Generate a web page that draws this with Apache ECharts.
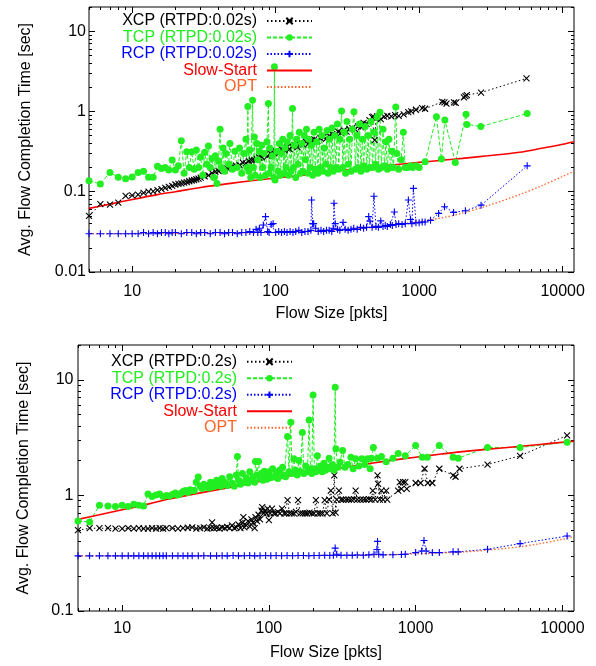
<!DOCTYPE html>
<html><head><meta charset="utf-8">
<script src="https://cdn.jsdelivr.net/npm/echarts@6/dist/echarts.min.js"></script>
<style>html,body{margin:0;padding:0;background:#fff}#c{width:596px;height:666px}</style>
</head><body><div id="c"></div>
<script>
// ---------- tick values ----------
const xMajorTicks = [10, 100, 1000, 10000];
const xMinorTicks = [5,6,7,8,9,20,30,40,50,60,70,80,90,200,300,400,500,600,700,800,900,2000,3000,4000,5000,6000,7000,8000,9000];
const yTopMajor = [0.01, 0.1, 1, 10];
const yTopMinor = [0.02,0.03,0.04,0.05,0.06,0.07,0.08,0.09,0.2,0.3,0.4,0.5,0.6,0.7,0.8,0.9,2,3,4,5,6,7,8,9,20];
const yBotMajor = [0.1, 1, 10];
const yBotMinor = [0.2,0.3,0.4,0.5,0.6,0.7,0.8,0.9,2,3,4,5,6,7,8,9,20];

// ---------- series names ----------
const namesTop = ['XCP (RTPD:0.02s)', 'TCP (RTPD:0.02s)', 'RCP (RTPD:0.02s)', 'Slow-Start', 'OPT'];
const namesBot = ['XCP (RTPD:0.2s)', 'TCP (RTPD:0.2s)', 'RCP (RTPD:0.2s)', 'Slow-Start', 'OPT'];

// ---------- top panel data (flow size, avg completion time) ----------
const xcpTop = [[5,0.050],[6,0.070],[7,0.069],[8,0.073],[9,0.089],[10,0.090],[11,0.092],[12,0.097],[13,0.100],[14,0.101],[15,0.105],[16,0.108],[17,0.112],[18,0.115],[19,0.118],[20,0.123],[21,0.125],[22,0.127],[23,0.130],[24,0.132],[25,0.135],[26,0.138],[27,0.140],[28,0.143],[29,0.146],[30,0.150],[32,0.155],[34,0.160],[36,0.170],[38,0.178],[40,0.180],[42,0.190],[44,0.185],[46,0.195],[48,0.200],[50,0.205],[53,0.210],[56,0.215],[59,0.230],[62,0.225],[65,0.240],[68,0.245],[71,0.250],[74,0.255],[77,0.265],[80,0.270],[84,0.290],[88,0.280],[92,0.300],[96,0.310],[100,0.320],[105,0.300],[110,0.340],[115,0.330],[120,0.360],[125,0.340],[130,0.370],[136,0.380],[142,0.360],[148,0.400],[155,0.390],[162,0.420],[170,0.400],[178,0.440],[186,0.450],[195,0.430],[205,0.470],[215,0.480],[225,0.460],[236,0.500],[248,0.520],[260,0.500],[272,0.560],[285,0.540],[298,0.580],[312,0.560],[327,0.600],[342,0.620],[358,0.600],[375,0.650],[393,0.640],[410,0.720],[430,0.700],[450,0.780],[470,0.850],[480,0.860],[490,0.440],[500,0.820],[510,0.870],[540,0.800],[570,0.860],[600,0.880],[640,0.870],[680,0.900],[720,0.880],[780,0.920],[840,0.980],[880,1.000],[950,1.050],[1050,1.100],[1100,1.080],[1450,1.320],[1500,1.300],[1550,1.250],[1750,1.300],[1800,1.280],[2050,1.500],[2100,1.550],[2150,1.600],[2700,1.720],[5600,2.580]];

const tcpTop = [[5,0.137],[6,0.125],[7,0.174],[8,0.151],[9,0.145],[10,0.153],[11,0.174],[12,0.18],[13,0.151],[14,0.151],[15,0.207],[16,0.195],[17,0.2],[18,0.186],[19,0.248],[20,0.186],[21,0.21],[22,0.43],[23,0.17],[24,0.315],[25,0.2],[26,0.315],[27,0.19],[28,0.33],[29,0.2],[30,0.27],[31,0.16],[32,0.31],[33,0.22],[34,0.37],[35,0.2],[36,0.26],[37,0.15],[38,0.28],[39,0.127],[40,0.24],[41,0.6],[42,0.2],[43,0.35],[44,0.18],[45,0.3],[47,0.22],[48,0.4],[50,0.19],[52,0.32],[54,0.2],[56,0.35],[58,0.17],[60,0.3],[62,0.45],[63,0.2],[64,1.15],[65,0.18],[66,0.33],[67,0.15],[69,1.38],[70,0.2],[71,0.48],[72,0.16],[74,0.4],[75,0.25],[77,0.32],[78,0.15],[80,0.38],[81,0.2],[83,0.3],[85,0.16],[87,0.42],[89,1.26],[90,0.17],[91,0.35],[93,0.2],[95,0.28],[97,0.15],[98,3.6],[99,0.14],[102,0.32],[104,0.18],[106,0.4],[108,0.16],[110,0.3],[112,0.45],[114,0.17],[116,0.35],[118,0.2],[120,0.42],[123,0.16],[126,0.5],[128,0.18],[131,1.09],[133,0.2],[135,0.38],[138,0.15],[140,0.45],[143,0.22],[146,0.55],[149,0.17],[152,0.4],[155,0.18],[158,0.5],[161,0.25],[164,0.6],[167,0.17],[170,0.45],[174,0.2],[178,0.38],[181,0.16],[185,0.55],[189,0.19],[193,0.42],[197,0.17],[201,0.6],[205,0.2],[210,0.5],[214,0.18],[218,0.35],[223,0.22],[228,0.58],[232,0.17],[237,0.45],[242,0.2],[247,0.62],[252,0.18],[258,0.5],[263,0.2],[269,0.7],[275,0.19],[281,0.45],[288,1.01],[294,0.2],[300,0.55],[307,0.17],[314,0.75],[321,0.22],[328,0.45],[335,0.18],[343,0.6],[351,0.99],[359,0.19],[367,0.5],[375,0.2],[384,0.7],[393,0.18],[402,0.45],[411,0.21],[421,0.65],[431,0.19],[441,0.5],[451,0.2],[462,0.75],[473,0.2],[485,0.55],[497,0.22],[509,0.85],[521,0.19],[533,0.98],[546,0.2],[560,0.6],[573,0.21],[587,0.42],[601,0.19],[616,0.45],[631,0.2],[646,0.32],[662,0.2],[687,1.14],[700,0.3],[720,0.19],[750,0.25],[776,0.55],[800,0.2],[830,0.2],[870,0.21],[900,0.2],[950,0.21],[1000,0.2],[1100,0.236],[1320,0.86],[1430,0.255],[1510,0.78],[1786,0.232],[2122,0.92],[2150,0.69],[2690,0.65],[5660,0.94]];

const rcpTop = [[5,0.030],[6,0.030],[7,0.030],[8,0.030],[9,0.030],[10,0.030],[11,0.030],[12,0.031],[13,0.030],[14,0.031],[15,0.030],[16,0.031],[17,0.031],[18,0.030],[19,0.031],[20,0.031],[22,0.030],[24,0.031],[26,0.031],[28,0.030],[30,0.031],[32,0.031],[35,0.030],[38,0.031],[41,0.031],[44,0.030],[47,0.031],[50,0.031],[54,0.030],[58,0.031],[62,0.031],[66,0.032],[70,0.031],[73,0.034],[75,0.031],[77,0.035],[79,0.031],[82,0.0385],[85,0.049],[88,0.032],[90,0.031],[93,0.039],[96,0.040],[100,0.031],[105,0.032],[110,0.031],[115,0.032],[120,0.031],[126,0.032],[132,0.031],[138,0.032],[145,0.033],[152,0.031],[160,0.032],[168,0.032],[176,0.033],[178,0.079],[181,0.040],[184,0.040],[190,0.035],[198,0.032],[207,0.033],[216,0.032],[226,0.033],[236,0.033],[246,0.032],[252,0.035],[255,0.072],[260,0.040],[270,0.034],[280,0.033],[295,0.0415],[305,0.034],[320,0.033],[335,0.034],[350,0.035],[370,0.034],[390,0.036],[410,0.035],[430,0.036],[445,0.049],[454,0.043],[470,0.036],[484,0.088],[500,0.037],[520,0.036],[540,0.0433],[560,0.037],[580,0.038],[600,0.037],[630,0.039],[650,0.038],[672,0.056],[690,0.039],[720,0.040],[760,0.039],[800,0.040],[841,0.079],[870,0.045],[890,0.040],[912,0.110],[950,0.041],[1000,0.041],[1050,0.042],[1100,0.042],[1200,0.044],[1366,0.0537],[1503,0.065],[1738,0.0553],[2100,0.058],[2700,0.068],[5660,0.21]];

const slowTop = [[5,0.062],[7,0.070],[10,0.080],[15,0.092],[20,0.100],[30,0.113],[50,0.128],[70,0.138],[100,0.148],[150,0.160],[200,0.170],[300,0.185],[500,0.205],[700,0.218],[1000,0.232],[1500,0.248],[2000,0.260],[3000,0.280],[5000,0.310],[7000,0.345],[10000,0.390],[12000,0.420]];

const optTop = [[5,0.030],[100,0.031],[200,0.0325],[300,0.034],[500,0.036],[700,0.039],[1000,0.0425],[1500,0.048],[2000,0.054],[3000,0.067],[5000,0.092],[7000,0.117],[10000,0.155],[12000,0.18]];

// ---------- bottom panel data ----------
const xcpBot = [[5,0.50],[6,0.52],[7,0.52],[8,0.52],[9,0.515],[10,0.515],[11,0.52],[12,0.515],[13,0.52],[14,0.515],[15,0.515],[16,0.52],[17,0.515],[18,0.52],[19,0.515],[20,0.52],[22,0.52],[24,0.515],[26,0.52],[28,0.525],[30,0.53],[32,0.515],[34,0.52],[36,0.53],[38,0.515],[40,0.52],[41,0.585],[42,0.52],[44,0.525],[46,0.515],[48,0.53],[50,0.52],[52,0.535],[54,0.52],[56,0.55],[58,0.52],[60,0.53],[62,0.56],[64,0.52],[66,0.58],[67,0.65],[68,0.53],[70,0.55],[72,0.6],[74,0.54],[76,0.62],[78,0.58],[80,0.52],[81,0.65],[83,0.6],[85,0.68],[87,0.62],[89,0.74],[90,0.79],[92,0.7],[94,0.74],[96,0.7],[98,0.77],[100,0.61],[102,0.7],[105,0.77],[108,0.7],[111,0.7],[115,0.72],[119,0.7],[123,0.77],[127,0.7],[131,0.7],[134,0.91],[138,0.7],[143,0.7],[148,0.7],[153,0.72],[158,0.91],[164,0.7],[170,0.7],[176,0.7],[182,0.7],[189,0.71],[196,0.7],[203,0.7],[209,0.91],[216,0.7],[224,0.7],[232,0.7],[240,0.91],[248,0.7],[257,0.92],[264,1.1],[272,0.7],[279,1.49],[285,0.71],[290,0.92],[300,1.1],[310,0.92],[320,0.92],[335,0.92],[350,0.92],[365,0.92],[380,0.93],[390,1.1],[400,0.92],[420,0.92],[440,0.92],[460,0.92],[480,0.93],[500,0.92],[510,1.1],[530,0.92],[550,1.49],[555,1.26],[570,0.92],[585,1.1],[600,0.92],[630,1.1],[640,0.92],[760,1.1],[780,1.3],[800,1.14],[820,1.3],[850,1.3],[870,1.14],[1000,1.28],[1080,1.28],[1150,1.7],[1210,1.28],[1300,1.28],[1450,1.7],[1800,1.49],[1870,1.45],[1990,1.7],[3090,1.85],[5150,2.2],[10770,3.3]];

const tcpBot = [[5,0.60],[6,0.59],[7,0.82],[8,0.81],[9,0.80],[10,0.82],[11,0.80],[12,0.84],[13,0.82],[14,0.81],[15,1.03],[16,0.98],[17,1.01],[18,1.03],[19,0.98],[20,1.00],[21,0.99],[22,1.02],[23,1.05],[24,1.01],[25,1.04],[26,1.08],[27,1.10],[28,1.06],[29,1.12],[30,1.10],[31,1.10],[32,1.30],[33,1.44],[34,1.20],[35,1.15],[36,1.25],[37,1.18],[38,1.22],[39,1.16],[40,1.30],[41,1.18],[42,1.25],[43,1.20],[44,1.35],[45,1.22],[46,1.28],[47,1.20],[48,1.40],[49,1.25],[50,1.30],[52,1.22],[54,1.45],[56,1.28],[58,1.20],[60,1.50],[61,2.17],[62,1.35],[64,1.25],[66,1.55],[68,1.30],[70,1.42],[72,1.28],[74,1.60],[76,1.35],[78,1.45],[80,1.30],[81,1.96],[83,1.50],[85,1.96],[87,1.40],[89,1.55],[91,1.35],[93,1.62],[95,1.45],[97,1.38],[100,1.60],[103,1.42],[106,1.70],[109,1.45],[112,1.55],[115,1.40],[118,1.65],[121,1.48],[124,1.75],[127,1.50],[130,1.45],[134,3.23],[137,1.60],[141,4.29],[144,1.55],[148,2.07],[152,1.65],[156,1.50],[160,2.00],[164,1.60],[169,3.50],[173,1.55],[178,1.80],[183,1.60],[188,4.49],[192,1.70],[196,1.55],[200,7.40],[204,1.70],[209,1.60],[214,2.20],[219,1.65],[225,1.80],[231,1.60],[237,1.90],[243,1.65],[250,1.75],[257,2.10],[264,1.70],[271,1.85],[278,1.65],[283,8.60],[286,2.53],[295,1.75],[305,1.94],[318,2.45],[330,1.75],[345,1.85],[362,2.14],[375,1.70],[390,2.07],[410,1.80],[430,2.07],[450,1.85],[470,2.07],[490,1.70],[500,2.10],[515,2.60],[550,2.10],[585,2.17],[630,1.95],[700,2.10],[760,2.30],[850,2.20],[1000,2.70],[1110,2.14],[1200,2.14],[1450,2.70],[1800,2.14],[1950,2.10],[3090,2.60],[5150,2.60],[10770,2.88]];

const rcpBot = [[5,0.3],[6,0.3],[7,0.3],[8,0.3],[9,0.3],[10,0.3],[11,0.3],[12,0.3],[13,0.3],[14,0.3],[15,0.3],[16,0.3],[17,0.3],[18,0.3],[19,0.3],[20,0.3],[22,0.3],[24,0.3],[26,0.3],[28,0.3],[30,0.3],[33,0.3],[36,0.301],[40,0.3],[44,0.3],[48,0.301],[52,0.3],[57,0.302],[62,0.3],[68,0.301],[74,0.302],[80,0.3],[87,0.301],[95,0.302],[103,0.301],[112,0.302],[122,0.301],[133,0.302],[145,0.301],[158,0.302],[172,0.302],[187,0.301],[203,0.302],[220,0.302],[240,0.303],[260,0.302],[275,0.304],[283,0.35],[290,0.31],[310,0.303],[340,0.304],[370,0.303],[400,0.305],[440,0.304],[480,0.306],[520,0.31],[545,0.34],[550,0.4],[560,0.31],[600,0.306],[700,0.307],[800,0.308],[850,0.31],[1000,0.32],[1100,0.33],[1140,0.407],[1180,0.33],[1300,0.32],[1450,0.32],[1800,0.325],[1950,0.325],[3090,0.342],[5150,0.383],[10770,0.445]];

const slowBot = [[5,0.62],[7,0.68],[10,0.75],[15,0.84],[20,0.92],[30,1.02],[50,1.15],[70,1.25],[100,1.37],[150,1.50],[200,1.60],[300,1.72],[500,1.90],[700,2.02],[1000,2.14],[1500,2.28],[2000,2.38],[3000,2.50],[5000,2.65],[7000,2.76],[10000,2.88],[12000,2.94]];

const optBot = [[5,0.3],[100,0.301],[300,0.303],[1000,0.312],[2000,0.323],[3000,0.335],[5000,0.358],[7000,0.382],[10000,0.417],[12000,0.44]];

// ---------- styling ----------
const FONT = '"Liberation Sans", Arial, Helvetica, sans-serif';
const C = { xcp:'#000000', tcp:'#22ee22', rcp:'#0000ff', slow:'#ff0000', opt:'#ff6428' };
const CROSS = 'path://M0,0L10,10M10,0L0,10';
const PLUS = 'path://M5,0L5,10M0,5L10,5';

function xAxisDef(grid, pos, ticks, len, withLabels, nameGap, labelMargin) {
  return {
    type:'log', logBase:10, gridIndex:grid, position:pos, min:5, max:12000,
    axisLine:{show:false}, splitLine:{show:false},
    axisTick:{show:true, inside:true, length:len, customValues:ticks, lineStyle:{color:'#000', width:1}},
    axisLabel:{show:withLabels, customValues:ticks, margin:labelMargin, fontSize:16, color:'#000', fontFamily:FONT,
      formatter: v => String(+(+v).toPrecision(6))},
    name: withLabels ? 'Flow Size [pkts]' : '', nameLocation:'middle', nameGap:nameGap,
    nameTextStyle:{fontSize:16, color:'#000', fontFamily:FONT}
  };
}
function yAxisDef(grid, pos, ticks, len, withLabels, min, nameGap, labelMargin) {
  return {
    type:'log', logBase:10, gridIndex:grid, position:pos, min:min, max:20,
    axisLine:{show:false}, splitLine:{show:false},
    axisTick:{show:true, inside:true, length:len, customValues:ticks, lineStyle:{color:'#000', width:1}},
    axisLabel:{show:withLabels, customValues:ticks, margin:labelMargin, fontSize:16, color:'#000', fontFamily:FONT,
      formatter: v => String(+(+v).toPrecision(6))},
    name: withLabels ? 'Avg. Flow Completion Time [sec]' : '', nameLocation:'middle', nameGap:nameGap,
    nameTextStyle:{fontSize:16, color:'#000', fontFamily:FONT}
  };
}

const xAxes = [], yAxes = [];
[[0, 34, 12], [1, 34, 10]].forEach(([g, ng, lm]) => {
  xAxes.push(xAxisDef(g, 'bottom', xMajorTicks, 6, true, ng, lm));
  xAxes.push(xAxisDef(g, 'bottom', xMinorTicks, 3, false, 0, 0));
  xAxes.push(xAxisDef(g, 'top', xMajorTicks, 6, false, 0, 0));
  xAxes.push(xAxisDef(g, 'top', xMinorTicks, 3, false, 0, 0));
});
yAxes.push(yAxisDef(0, 'left', yTopMajor, 6, true, 0.01, 55, 3));
yAxes.push(yAxisDef(0, 'left', yTopMinor, 3, false, 0.01, 0, 0));
yAxes.push(yAxisDef(0, 'right', yTopMajor, 6, false, 0.01, 0, 0));
yAxes.push(yAxisDef(0, 'right', yTopMinor, 3, false, 0.01, 0, 0));
yAxes.push(yAxisDef(1, 'left', yBotMajor, 6, true, 0.1, 46, 4.5));
yAxes.push(yAxisDef(1, 'left', yBotMinor, 3, false, 0.1, 0, 0));
yAxes.push(yAxisDef(1, 'right', yBotMajor, 6, false, 0.1, 0, 0));
yAxes.push(yAxisDef(1, 'right', yBotMinor, 3, false, 0.1, 0, 0));

function makeSeries(names, ax, xcp, tcp, rcp, slow, opt) {
  const common = {type:'line', xAxisIndex:ax, yAxisIndex:ax, showAllSymbol:true, animation:false,
    emphasis:{disabled:true}, clip:false};
  return [
    Object.assign({}, common, {name:names[0], data:xcp, symbol:CROSS, symbolSize:6,
      lineStyle:{color:C.xcp, width:1, type:[1.5,2.5]},
      itemStyle:{color:C.xcp, borderColor:C.xcp, borderWidth:1.1}}),
    Object.assign({}, common, {name:names[1], data:tcp, symbol:'circle', symbolSize:7,
      lineStyle:{color:C.tcp, width:1, type:[4,2]},
      itemStyle:{color:C.tcp, borderWidth:0}}),
    Object.assign({}, common, {name:names[2], data:rcp, symbol:PLUS, symbolSize:7,
      lineStyle:{color:C.rcp, width:1, type:[1.5,2]},
      itemStyle:{color:C.rcp, borderColor:C.rcp, borderWidth:1.1}}),
    Object.assign({}, common, {name:names[3], data:slow, symbol:'none', smooth:0.3,
      lineStyle:{color:C.slow, width:1.6, type:'solid'}, itemStyle:{color:C.slow}}),
    Object.assign({}, common, {name:names[4], data:opt, symbol:'none', smooth:0.3,
      lineStyle:{color:C.opt, width:1.3, type:[1.5,2]}, itemStyle:{color:C.opt}})
  ];
}

function legendDef(names, right, top) {
  const cols = [C.xcp, C.tcp, C.rcp, C.slow, C.opt];
  return {
    data: names.map((n, i) => {
      const d = {name:n, textStyle:{color:cols[i]}};
      if (i >= 3) d.itemStyle = {opacity:0};
      return d;
    }),
    orient:'vertical', align:'right', right:right, top:top, padding:0, itemGap:0,
    itemWidth:45, itemHeight:8, selectedMode:false,
    textStyle:{fontSize:16, fontFamily:FONT, lineHeight:16.5, padding:[0,5,0,0]}
  };
}

const chart = echarts.init(document.getElementById('c'), null, {renderer:'canvas'});
chart.setOption({
  animation:false,
  backgroundColor:'#fff',
  grid:[
    {left:89, top:7, width:485, height:265, show:true, borderColor:'#000', borderWidth:1, backgroundColor:'transparent'},
    {left:78, top:345, width:496, height:266, show:true, borderColor:'#000', borderWidth:1, backgroundColor:'transparent'}
  ],
  legend:[legendDef(namesTop, 283, 12.75), legendDef(namesBot, 303, 353.5)],
  xAxis:xAxes,
  yAxis:yAxes,
  series: makeSeries(namesTop, 0, xcpTop, tcpTop, rcpTop, slowTop, optTop)
    .concat(makeSeries(namesBot, 4, xcpBot, tcpBot, rcpBot, slowBot, optBot))
});
</script>
</body></html>
